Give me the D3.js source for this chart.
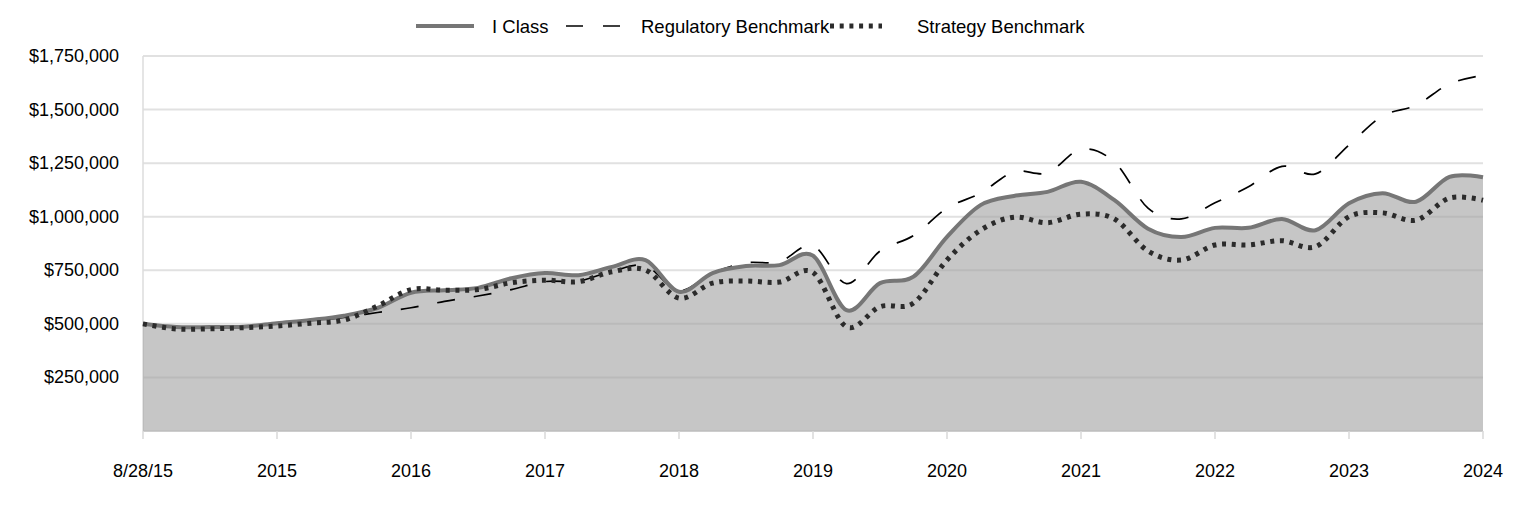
<!DOCTYPE html>
<html><head><meta charset="utf-8">
<script src="https://cdn.jsdelivr.net/npm/d3@7"></script>
<style>
body{margin:0;background:#fff;}
text{font-family:"Liberation Sans",Arial,sans-serif;}
</style></head>
<body><svg id="c" width="1524" height="516"></svg>
<script>
const tickLabels = ["8/28/15","2015","2016","2017","2018","2019","2020","2021","2022","2023","2024"];
const seriesNames = ["I Class","Regulatory Benchmark","Strategy Benchmark"];
const iClass = [500000,485000,485000,487000,503000,518000,538000,574000,645000,657000,668000,
  713000,737000,727000,766000,797000,650000,737000,770000,774000,818000,
  564000,690000,720000,906000,1054000,1097000,1116000,1163000,1077000,944000,
  905000,948000,948000,989000,937000,1063000,1110000,1070000,1186000,1184000];
const regulatory = [500000,485000,483000,487000,505000,515000,530000,553000,575000,605000,630000,
  660000,697000,700000,745000,770000,655000,737000,785000,790000,865000,
  688000,840000,912000,1040000,1110000,1210000,1205000,1315000,1255000,1040000,
  990000,1065000,1140000,1235000,1200000,1335000,1470000,1520000,1620000,1660000];
const strategy = [500000,476000,477000,482000,490000,503000,518000,583000,660000,657000,660000,
  692000,704000,697000,743000,751000,620000,690000,700000,695000,740000,
  486000,580000,597000,798000,937000,998000,972000,1012000,989000,840000,
  798000,868000,868000,888000,860000,1000000,1018000,984000,1087000,1077000];
const yTicks = [250000,500000,750000,1000000,1250000,1500000,1750000];

const svg = d3.select("#c");
const x = d3.scaleLinear().domain([0, iClass.length-1]).range([143,1483]);
const y = d3.scaleLinear().domain([0,1750000]).range([431,56]);
const fmt = v => "$" + d3.format(",")(v);

// gridlines
svg.append("g").selectAll("line").data(yTicks).join("line")
  .attr("x1",143).attr("x2",1483).attr("y1",d=>y(d)).attr("y2",d=>y(d))
  .attr("stroke","#e1e1e1").attr("stroke-width",2);
// y axis vertical line
svg.append("line").attr("x1",143).attr("x2",143).attr("y1",56).attr("y2",431)
  .attr("stroke","#dcdcdc").attr("stroke-width",1.5);

const curve = d3.curveCatmullRom.alpha(0);
const area = d3.area().x((d,i)=>x(i)).y0(y(0)).y1(d=>y(d)).curve(curve);
const line = d3.line().x((d,i)=>x(i)).y(d=>y(d)).curve(curve);

svg.append("path").datum(iClass).attr("d",area).attr("fill","#a0a0a0").attr("fill-opacity",0.6);

// x axis
const xTickIdx = tickLabels.map((t,i)=>i*4);
svg.append("line").attr("x1",143).attr("x2",1483).attr("y1",431).attr("y2",431)
  .attr("stroke","#bdbdbd").attr("stroke-width",1.5);
svg.append("g").selectAll("line").data(xTickIdx).join("line")
  .attr("x1",d=>x(d)).attr("x2",d=>x(d)).attr("y1",431).attr("y2",439)
  .attr("stroke","#d9d9d9").attr("stroke-width",1.5);
svg.append("g").selectAll("text").data(tickLabels).join("text")
  .attr("x",(d,i)=>x(i*4)).attr("y",477).attr("text-anchor","middle")
  .attr("font-size",18).attr("fill","#000").text(d=>d);
// y labels
svg.append("g").selectAll("text").data(yTicks).join("text")
  .attr("x",119).attr("y",d=>y(d)+6).attr("text-anchor","end")
  .attr("font-size",18).attr("fill","#000").text(fmt);

// lines
svg.append("path").datum(regulatory).attr("d",line).attr("fill","none")
  .attr("stroke","#000").attr("stroke-width",1.7).attr("stroke-dasharray","18,19");
svg.append("path").datum(iClass).attr("d",line).attr("fill","none")
  .attr("stroke","#767676").attr("stroke-width",4);
svg.append("path").datum(strategy).attr("d",line).attr("fill","none")
  .attr("stroke","#2b2b2b").attr("stroke-width",5).attr("stroke-dasharray","4,5.7");

// legend
const lg = svg.append("g");
lg.append("line").attr("x1",416).attr("x2",474).attr("y1",26).attr("y2",26)
  .attr("stroke","#767676").attr("stroke-width",4);
lg.append("text").attr("x",492).attr("y",32.5).attr("font-size",18.5).text(seriesNames[0]);
lg.append("line").attr("x1",566).attr("x2",621).attr("y1",26).attr("y2",26)
  .attr("stroke","#000").attr("stroke-width",1.7).attr("stroke-dasharray","17,20");
lg.append("text").attr("x",641).attr("y",32.5).attr("font-size",18.5).text(seriesNames[1]);
lg.append("line").attr("x1",830).attr("x2",882).attr("y1",26).attr("y2",26)
  .attr("stroke","#2b2b2b").attr("stroke-width",5).attr("stroke-dasharray","4,5.7");
lg.append("text").attr("x",917).attr("y",32.5).attr("font-size",18.5).text(seriesNames[2]);
</script></body></html>
